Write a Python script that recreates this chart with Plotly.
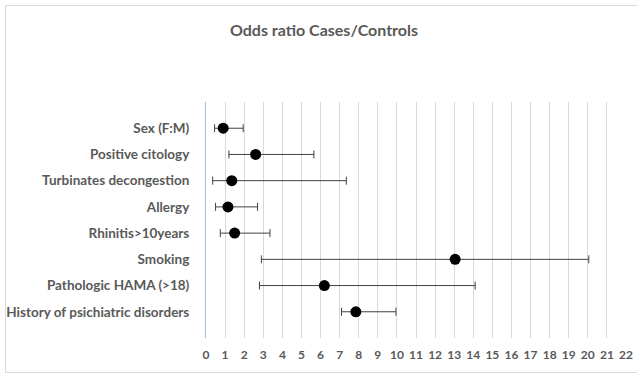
import plotly.graph_objects as go

categories = ["Sex (F:M)", "Positive citology", "Turbinates decongestion", "Allergy",
              "Rhinitis>10years", "Smoking", "Pathologic HAMA (>18)",
              "History of psichiatric disorders"]
odds_ratio = [0.9, 2.6, 1.35, 1.15, 1.5, 13.05, 6.2, 7.85]
ci_low = [0.45, 1.2, 0.35, 0.5, 0.75, 2.9, 2.8, 7.1]
ci_high = [1.95, 5.65, 7.35, 2.7, 3.35, 20.05, 14.1, 9.95]
y_pos = [8, 7, 6, 5, 4, 3, 2, 1]
x_ticks = list(range(0, 23))

err_plus = [h - o for h, o in zip(ci_high, odds_ratio)]
err_minus = [o - l for o, l in zip(odds_ratio, ci_low)]

W, H = 637, 374
L, R, T, B = 206, 11, 102, 36
pw, ph = W - L - R, H - T - B

def px_x(p):
    return (p - L) / pw

def px_y(p):
    return (H - B - p) / ph

fig = go.Figure()
fig.add_trace(go.Scatter(
    x=odds_ratio, y=y_pos, mode="markers",
    marker=dict(color="black", size=11),
    error_x=dict(type="data", symmetric=False, array=err_plus, arrayminus=err_minus,
                 color="#404040", thickness=1, width=4),
    showlegend=False, cliponaxis=False, hoverinfo="skip",
))

fig.update_layout(
    width=W, height=H, autosize=False,
    margin=dict(l=L, r=R, t=T, b=B, autoexpand=False),
    paper_bgcolor="white", plot_bgcolor="white",
    font=dict(family="Lato", color="#595959"),
    title=dict(text="<b>Odds ratio Cases/Controls</b>", font=dict(size=16, color="#595959"),
               x=px_x(324), xref="paper", xanchor="center",
               y=1 - 30 / H, yref="container", yanchor="middle", automargin=False),
    xaxis=dict(range=[0, 22], tickvals=x_ticks, ticktext=["<b>%d</b>" % v for v in x_ticks],
               showgrid=True, gridcolor="#D9D9D9", gridwidth=1, zeroline=False,
               showline=False, ticks="", tickfont=dict(size=12, color="#595959"),
               ticklabelstandoff=8, automargin=False),
    yaxis=dict(range=[0, 9], tickvals=y_pos, ticktext=["<b>%s</b>" % c for c in categories],
               showgrid=False, zeroline=False, showline=True, linecolor="#A9C0E4", linewidth=1,
               ticks="", tickfont=dict(size=13.5, color="#595959"), ticklabelstandoff=13,
               automargin=False),
    shapes=[dict(type="rect", xref="paper", yref="paper",
                 x0=px_x(5.5), x1=px_x(645), y0=px_y(372.5), y1=px_y(5.5),
                 line=dict(color="#D9D9D9", width=1), fillcolor="rgba(0,0,0,0)", layer="below")],
)

fig.write_html("out.html", config={"displayModeBar": False, "responsive": False},
               post_script="document.body.style.margin='0';document.body.style.overflow='hidden';")
